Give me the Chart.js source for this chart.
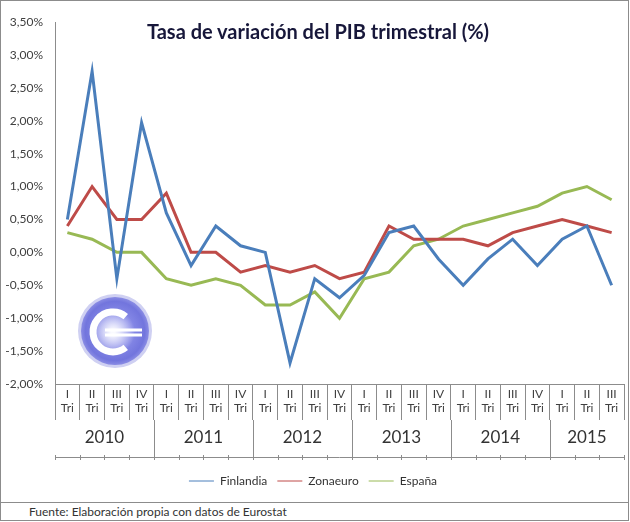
<!DOCTYPE html>
<html>
<head>
<meta charset="utf-8">
<script src="https://cdn.jsdelivr.net/npm/chart.js@4"></script>
<style>
  html, body { margin: 0; padding: 0; background: #fff; }
  .marco { position: absolute; left: 0; top: 0; width: 627px; height: 501px; border: 1px solid #8c8c8c; }
  .pie { position: absolute; left: 0; top: 503px; height: 18px; border: 1px solid #8c8c8c; border-top: none;
         font: 12px 'Lato', sans-serif; color: #333; line-height: 18px; padding-left: 28px; box-sizing: border-box; width: 629px; }
  .titulo { position: absolute; left: 0; width: 636px; top: 19px; text-align: center;
            font: bold 20px 'Lato', sans-serif; color: #17173a; }
  canvas { position: absolute; left: 0; top: 0; }
</style>
</head>
<body>
<div class="marco"></div>
<div class="pie">Fuente: Elaboración propia con datos de Eurostat</div>
<canvas id="grafico" width="630" height="522"></canvas>
<div class="titulo">Tasa de variación del PIB trimestral (%)</div>
<script>
// datos (tasa trimestral en %)
const anios = ['2010', '2011', '2012', '2013', '2014', '2015'];
const trimestres = ['I', 'II', 'III', 'IV'];
const trimestresPorAnio = [4, 4, 4, 4, 4, 3];

const finlandia = [0.5, 2.75, -0.4, 1.97, 0.6, -0.2, 0.4, 0.1, 0.0, -1.68, -0.4, -0.69,
                   -0.35, 0.3, 0.4, -0.1, -0.5, -0.1, 0.2, -0.2, 0.2, 0.4, -0.5];
const zonaeuro = [0.4, 1.0, 0.5, 0.5, 0.9, 0.0, 0.0, -0.3, -0.2, -0.3, -0.2, -0.4,
                  -0.3, 0.4, 0.2, 0.2, 0.2, 0.1, 0.3, 0.4, 0.5, 0.4, 0.3];
const espana = [0.3, 0.2, 0.0, 0.0, -0.4, -0.5, -0.4, -0.5, -0.8, -0.8, -0.6, -1.0,
                -0.4, -0.3, 0.1, 0.2, 0.4, 0.5, 0.6, 0.7, 0.9, 1.0, 0.8];

// etiquetas de categoria: ['I','Tri'], ['II','Tri'] ...
const categorias = [];
trimestresPorAnio.forEach(n => {
    for (let q = 0; q < n; q++) categorias.push([trimestres[q], 'Tri']);
});

const gris = '#8c8c8c';
const fuente = "'Lato', sans-serif";

// fila de anios debajo de los trimestres
const filaAnios = {
    id: 'filaAnios',
    afterDraw(chart) {
        const ctx = chart.ctx;
        const x = chart.scales.x;
        const area = chart.chartArea;
        const paso = x.getPixelForValue(1) - x.getPixelForValue(0);
        const yTop = area.bottom + 36;
        const yBase = area.bottom + 73;
        ctx.save();
        ctx.strokeStyle = gris;
        ctx.lineWidth = 1;
        ctx.beginPath();
        ctx.moveTo(area.left, yBase + 0.5);
        ctx.lineTo(area.right, yBase + 0.5);
        for (let i = 0; i <= categorias.length; i++) {
            const px = Math.round(x.getPixelForValue(i) - paso / 2) + 0.5;
            ctx.moveTo(px, yBase - 2);
            ctx.lineTo(px, yBase + 3);
        }
        ctx.stroke();

        ctx.fillStyle = '#333';
        ctx.font = '17px ' + fuente;
        ctx.textAlign = 'center';
        ctx.textBaseline = 'middle';
        let inicio = 0;
        anios.forEach((anio, k) => {
            const fin = inicio + trimestresPorAnio[k] - 1;
            const centro = (x.getPixelForValue(inicio) + x.getPixelForValue(fin)) / 2;
            ctx.fillText(anio, centro, yTop + 18);
            if (k < anios.length - 1) {
                const px = Math.round(x.getPixelForValue(fin) + paso / 2) + 0.5;
                ctx.beginPath();
                ctx.moveTo(px, yTop);
                ctx.lineTo(px, yBase);
                ctx.stroke();
            }
            inicio = fin + 1;
        });
        ctx.restore();
    }
};

// logotipo circular
const logo = {
    id: 'logo',
    beforeDatasetsDraw(chart) {
        const ctx = chart.ctx;
        const cx = 115, cy = 331, r = 37;
        ctx.save();
        ctx.beginPath();
        ctx.arc(cx, cy, r, 0, Math.PI * 2);
        ctx.fillStyle = '#cfd0f2';
        ctx.fill();
        ctx.beginPath();
        ctx.arc(cx, cy, r - 3, 0, Math.PI * 2);
        const g = ctx.createRadialGradient(cx, cy, 5, cx, cy, r - 3);
        g.addColorStop(0, '#9a9df0');
        g.addColorStop(0.85, '#7275dd');
        g.addColorStop(1, '#8a8ce4');
        ctx.fillStyle = g;
        ctx.fill();
        const g2 = ctx.createRadialGradient(cx - 2, cy + 1, 2, cx - 2, cy + 1, 22);
        g2.addColorStop(0, 'rgba(255,255,255,0.95)');
        g2.addColorStop(1, 'rgba(255,255,255,0)');
        ctx.fillStyle = g2;
        ctx.beginPath();
        ctx.arc(cx - 2, cy + 1, 22, 0, Math.PI * 2);
        ctx.fill();
        ctx.strokeStyle = '#ffffff';
        ctx.lineWidth = 7;
        ctx.beginPath();
        ctx.arc(cx - 2, cy + 1, 20, -0.28 * Math.PI, 0.28 * Math.PI, true);
        ctx.stroke();
        ctx.lineWidth = 3;
        ctx.beginPath();
        ctx.moveTo(cx - 10, cy - 1);
        ctx.lineTo(cx + 27, cy - 1);
        ctx.moveTo(cx - 10, cy + 4);
        ctx.lineTo(cx + 27, cy + 4);
        ctx.stroke();
        ctx.restore();
    }
};

new Chart(document.getElementById('grafico'), {
    type: 'line',
    data: {
        labels: categorias,
        datasets: [
            { label: 'Finlandia', data: finlandia, borderColor: '#4a7ebb', backgroundColor: '#4a7ebb' },
            { label: 'Zonaeuro', data: zonaeuro, borderColor: '#be4b48', backgroundColor: '#be4b48' },
            { label: 'España', data: espana, borderColor: '#98b954', backgroundColor: '#98b954' }
        ]
    },
    options: {
        responsive: false,
        animation: false,
        elements: {
            line: { borderWidth: 3, tension: 0 },
            point: { radius: 0 }
        },
        layout: { padding: { left: 2, right: 6, top: 22, bottom: 25 } },
        scales: {
            x: {
                offset: true,
                grid: { offset: true, drawOnChartArea: false, tickLength: 36, color: gris },
                border: { color: gris },
                ticks: { padding: -33, autoSkip: false, maxRotation: 0, color: '#404040', font: { family: fuente, size: 12 } },
                afterFit: s => { s.height = 81; }
            },
            y: {
                min: -2,
                max: 3.5,
                grid: { display: false },
                border: { color: gris },
                ticks: {
                    stepSize: 0.5,
                    padding: 4,
                    color: '#404040',
                    font: { family: fuente, size: 12 },
                    callback: v => v.toFixed(2).replace('.', ',') + '%'
                },
                afterFit: s => { s.width = 53; }
            }
        },
        plugins: {
            legend: {
                position: 'bottom',
                labels: {
                    usePointStyle: true,
                    pointStyle: 'line',
                    pointStyleWidth: 25,
                    padding: 10,
                    color: '#333',
                    font: { family: fuente, size: 12 }
                }
            },
            tooltip: { enabled: false }
        }
    },
    plugins: [filaAnios, logo]
});
</script>
</body>
</html>
